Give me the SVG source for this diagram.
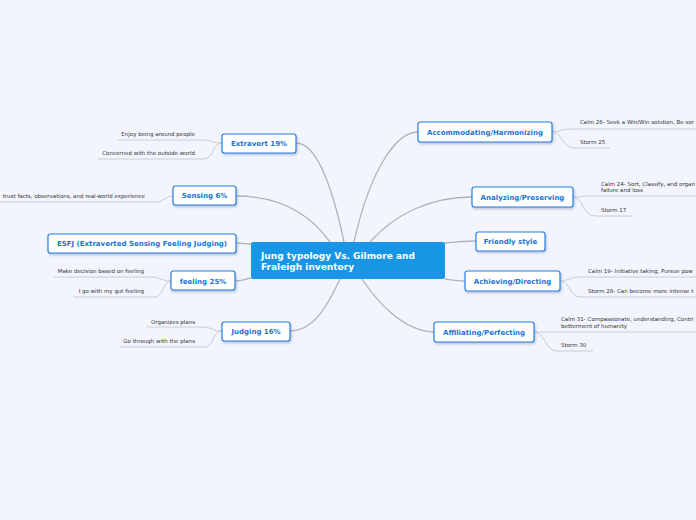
<svg xmlns="http://www.w3.org/2000/svg" width="696" height="520" viewBox="0 0 696 520">
<defs>
<filter id="sh" x="-10%" y="-30%" width="120%" height="160%">
<feDropShadow dx="1" dy="1.5" stdDeviation="0.8" flood-color="#3a5a8a" flood-opacity="0.35"/>
</filter>
<style>
.node rect{fill:#ffffff;stroke:#2a7fe0;stroke-width:1.2;filter:url(#sh)}
.node text{font-family:"DejaVu Sans",Verdana,sans-serif;font-weight:bold;font-size:7px;fill:#1a73d6;text-anchor:middle}
.main{stroke:#b3b3b6;stroke-width:1.3;fill:none}
.leafline{stroke:#c9ccd4;stroke-width:1;fill:none}
.leaf{font-family:"DejaVu Sans",Verdana,sans-serif;font-size:5.5px;fill:#333333}
.r{text-anchor:end}
</style>
</defs>
<rect width="696" height="520" fill="#f2f5fd"/>
<g id="connectors">
<path class="main" d="M296,143 C318,143 333,190 344,242"/>
<path class="main" d="M418,132 C396,132 370,170 354,242"/>
<path class="main" d="M236,196 C280,196 310,214 330,242"/>
<path class="main" d="M472,197 C430,197 395,214 370,242"/>
<path class="main" d="M236,243 C242,243 246,244 251,244"/>
<path class="main" d="M445,243 C455,242 465,241 476,241"/>
<path class="main" d="M235,281 C243,281 245,279 251,278"/>
<path class="main" d="M445,279 C452,280 458,281 465,281"/>
<path class="main" d="M290,331 C316,331 330,300 340,279"/>
<path class="main" d="M434,332 C402,331 376,300 362,279"/>
<path class="leafline" d="M117,140 L202,140 C212,140 212,143 222,143"/>
<path class="leafline" d="M98,159 L204,159 C214,159 212,143 222,143"/>
<path class="leafline" d="M0,202 L156,202 C164,202 165,196 173,196"/>
<path class="leafline" d="M54,277 L151,277 C160,277 162,281 171,281"/>
<path class="leafline" d="M73,297 L155,297 C163,297 163,281 171,281"/>
<path class="leafline" d="M147,327 L202,327 C212,327 212,331 222,331"/>
<path class="leafline" d="M120,347 L205,347 C214,347 212,331 222,331"/>
<path class="leafline" d="M552,132 C560,132 562,129 570,129 L696,129"/>
<path class="leafline" d="M552,132 C562,132 562,148 574,148 L610,148"/>
<path class="leafline" d="M573,197 C580,197 582,196 590,196 L696,196"/>
<path class="leafline" d="M573,197 C583,197 583,216 595,216 L632,216"/>
<path class="leafline" d="M560,281 C568,281 570,277 580,277 L696,277"/>
<path class="leafline" d="M560,281 C570,281 570,297 580,297 L696,297"/>
<path class="leafline" d="M534,332 L696,332"/>
<path class="leafline" d="M534,332 C545,332 545,351 557,351 L593,351"/>
</g>
<g id="central">
<rect x="251" y="242" width="194" height="37" rx="2" fill="#1896e5"/>
<text font-family="DejaVu Sans,Verdana,sans-serif" font-weight="bold" font-size="9px" fill="#ffffff"><tspan x="261" y="259">Jung typology Vs. Gilmore and</tspan><tspan x="261" y="270">Fraleigh inventory</tspan></text>
</g>
<g id="extravert" class="node"><rect x="222" y="134" width="74" height="19" rx="2.5"/><text x="259" y="146">Extravert 19%</text></g>
<g id="sensing" class="node"><rect x="173" y="186" width="63" height="19" rx="2.5"/><text x="204.5" y="198">Sensing 6%</text></g>
<g id="esfj" class="node"><rect x="48" y="234" width="188" height="19" rx="2.5"/><text x="142" y="246">ESFJ (Extraverted Sensing Feeling Judging)</text></g>
<g id="feeling" class="node"><rect x="171" y="271" width="64" height="19" rx="2.5"/><text x="203" y="283.5">feeling 25%</text></g>
<g id="judging" class="node"><rect x="222" y="322" width="68" height="19" rx="2.5"/><text x="256" y="334">Judging 16%</text></g>
<g id="accommodating" class="node"><rect x="418" y="122" width="134" height="20" rx="2.5"/><text x="485" y="134.5">Accommodating/Harmonizing</text></g>
<g id="analyzing" class="node"><rect x="472" y="187" width="101" height="20" rx="2.5"/><text x="522.5" y="199.5">Analyzing/Preserving</text></g>
<g id="friendly" class="node"><rect x="476" y="232" width="69" height="19" rx="2.5"/><text x="510.5" y="244">Friendly style</text></g>
<g id="achieving" class="node"><rect x="465" y="271" width="95" height="20" rx="2.5"/><text x="512.5" y="283.5">Achieving/Directing</text></g>
<g id="affiliating" class="node"><rect x="434" y="322" width="100" height="20" rx="2.5"/><text x="484" y="334.5">Affiliating/Perfecting</text></g>
<g id="leaves">
<text class="leaf r" x="195" y="136">Enjoy being around people</text>
<text class="leaf r" x="195" y="155">Concerned with the outside world</text>
<text class="leaf r" x="145" y="198">trust facts, observations, and real-world experience</text>
<text class="leaf r" x="144" y="273">Make decision based on feeling</text>
<text class="leaf r" x="144" y="293">I go with my gut feeling</text>
<text class="leaf r" x="195" y="324">Organizes plans</text>
<text class="leaf r" x="195" y="343">Go through with the plans</text>
<text class="leaf" x="580" y="124">Calm 26- Seek a Win/Win solution, Be sor</text>
<text class="leaf" x="580" y="144">Storm 25</text>
<text class="leaf" x="601" y="186">Calm 24- Sort, Classify, and organ</text>
<text class="leaf" x="601" y="192">failure and loss</text>
<text class="leaf" x="601" y="212">Storm 17</text>
<text class="leaf" x="588" y="273">Calm 19- Initiative taking, Pursue pow</text>
<text class="leaf" x="588" y="293">Storm 28- Can become more intense t</text>
<text class="leaf" x="561" y="321">Calm 31- Compassionate, understanding, Contri</text>
<text class="leaf" x="561" y="328">betterment of humanity</text>
<text class="leaf" x="561" y="347">Storm 30</text>
</g>
</svg>
